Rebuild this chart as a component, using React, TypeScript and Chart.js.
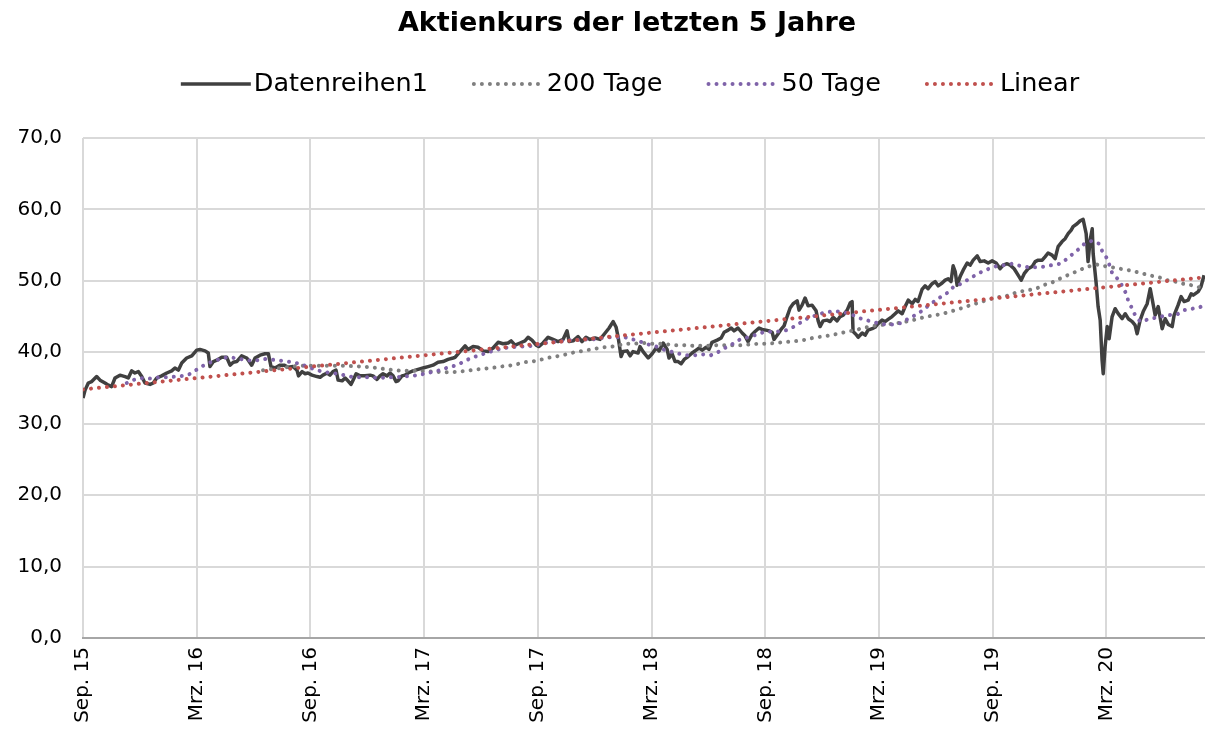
import React, { useEffect, useRef } from "react";
import { Chart, registerables } from "chart.js";

Chart.register(...registerables);

const chartTitle = "Aktienkurs der letzten 5 Jahre";
const seriesNames = ["Datenreihen1", "200 Tage", "50 Tage", "Linear"];
const seriesColors = ["#404040", "#7f7f7f", "#7f63a9", "#c0504d"];

// x axis: months since Sep. 2015
const xTickMonths = [0, 6, 12, 18, 24, 30, 36, 42, 48, 54];
const xTickLabels = ["Sep. 15", "Mrz. 16", "Sep. 16", "Mrz. 17", "Sep. 17", "Mrz. 18", "Sep. 18", "Mrz. 19", "Sep. 19", "Mrz. 20"];
const xMaxMonth = 59.2;
const yTicks = [0, 10, 20, 30, 40, 50, 60, 70];

// [month, price]
const priceSeries: [number, number][] = [
  [0.00,33.6],[0.11,34.7],[0.28,35.7],[0.46,35.9],[0.72,36.6],[0.90,36.1],[1.16,35.7],[1.34,35.4],[1.51,35.2],[1.69,36.4],
  [1.95,36.8],[2.22,36.6],[2.39,36.4],[2.57,37.4],[2.74,37.1],[2.92,37.3],[3.10,36.6],[3.27,35.7],[3.54,35.5],[3.71,35.7],
  [3.89,36.4],[4.15,36.7],[4.42,37.1],[4.68,37.4],[4.85,37.8],[5.03,37.5],[5.21,38.5],[5.47,39.2],[5.74,39.5],[6.00,40.3],
  [6.17,40.4],[6.44,40.2],[6.61,39.9],[6.70,38.0],[6.88,38.7],[7.06,38.9],[7.32,39.3],[7.58,39.3],[7.76,38.2],[7.93,38.6],
  [8.11,38.7],[8.37,39.5],[8.64,39.2],[8.90,38.2],[9.08,39.2],[9.34,39.6],[9.60,39.8],[9.78,39.8],[9.92,38.0],[10.13,37.8],
  [10.40,38.2],[10.61,38.2],[10.82,37.9],[11.08,38.0],[11.29,37.5],[11.37,36.7],[11.56,37.3],[11.72,37.0],[11.87,37.1],[12.08,36.8],
  [12.35,36.6],[12.51,36.5],[12.66,36.8],[12.88,37.1],[13.03,36.8],[13.19,37.3],[13.35,37.5],[13.46,36.1],[13.67,36.0],[13.83,36.4],
  [13.98,36.0],[14.14,35.5],[14.25,36.1],[14.41,37.0],[14.62,36.7],[14.88,36.7],[15.15,36.8],[15.30,36.7],[15.51,36.2],[15.67,36.7],
  [15.83,37.0],[16.04,36.7],[16.20,37.1],[16.36,36.7],[16.52,35.9],[16.62,36.0],[16.83,36.7],[16.99,36.8],[17.15,37.1],[17.41,37.4],
  [17.68,37.6],[17.94,37.8],[18.21,38.0],[18.47,38.2],[18.73,38.6],[19.00,38.7],[19.26,39.0],[19.53,39.2],[19.63,39.3],[19.89,40.1],
  [20.16,40.9],[20.32,40.4],[20.58,40.8],[20.84,40.7],[21.11,40.2],[21.37,40.1],[21.64,40.6],[21.90,41.4],[22.16,41.2],[22.43,41.3],
  [22.59,41.6],[22.80,41.0],[23.06,41.3],[23.32,41.6],[23.48,42.1],[23.69,41.7],[23.91,41.0],[24.06,40.8],[24.27,41.3],[24.54,42.1],
  [24.80,41.8],[25.07,41.5],[25.33,41.8],[25.54,43.0],[25.65,41.5],[25.86,41.6],[26.12,42.2],[26.33,41.5],[26.54,42.1],[26.75,41.8],
  [27.02,42.0],[27.28,41.8],[27.55,42.7],[27.76,43.4],[27.97,44.3],[28.13,43.5],[28.23,42.2],[28.39,39.4],[28.50,40.1],[28.71,40.2],
  [28.87,39.5],[29.02,40.1],[29.29,39.9],[29.39,40.8],[29.55,40.1],[29.82,39.2],[30.03,39.8],[30.24,40.6],[30.40,40.2],[30.61,41.3],
  [30.82,40.4],[30.92,39.2],[31.08,39.8],[31.24,38.7],[31.40,38.7],[31.56,38.4],[31.72,39.0],[31.93,39.4],[32.14,39.9],[32.35,40.3],
  [32.51,40.6],[32.67,40.3],[32.88,40.7],[33.03,40.4],[33.19,41.4],[33.46,41.7],[33.67,42.0],[33.83,42.8],[34.04,43.1],[34.20,43.4],
  [34.35,43.0],[34.56,43.4],[34.78,42.7],[34.93,42.3],[35.09,41.5],[35.30,42.5],[35.46,42.9],[35.67,43.4],[35.83,43.2],[36.04,43.1],
  [36.20,43.0],[36.36,42.8],[36.46,41.8],[36.68,42.6],[36.83,43.2],[36.99,43.7],[37.15,45.0],[37.31,46.2],[37.47,46.8],[37.68,47.2],
  [37.78,45.9],[37.94,46.6],[38.10,47.6],[38.26,46.5],[38.47,46.6],[38.68,45.8],[38.79,44.4],[38.89,43.6],[39.05,44.4],[39.26,44.5],
  [39.42,44.3],[39.58,44.9],[39.79,44.4],[39.95,45.0],[40.11,45.2],[40.32,45.9],[40.48,46.9],[40.58,47.1],[40.63,42.9],[40.79,42.5],
  [40.90,42.1],[41.11,42.7],[41.27,42.4],[41.42,43.1],[41.64,43.3],[41.79,43.5],[41.95,44.0],[42.16,44.5],[42.32,44.3],[42.48,44.6],
  [42.69,45.0],[42.85,45.4],[43.01,45.8],[43.22,45.4],[43.38,46.4],[43.54,47.3],[43.75,46.8],[43.91,47.4],[44.06,47.1],[44.27,48.8],
  [44.43,49.3],[44.59,48.9],[44.80,49.6],[44.96,49.9],[45.12,49.3],[45.33,49.7],[45.49,50.1],[45.65,50.3],[45.80,49.9],[45.91,52.1],
  [46.02,51.3],[46.12,49.4],[46.28,50.6],[46.44,51.5],[46.65,52.5],[46.81,52.2],[46.97,52.9],[47.18,53.5],[47.34,52.7],[47.55,52.8],
  [47.76,52.5],[47.97,52.8],[48.18,52.5],[48.39,51.7],[48.55,52.2],[48.76,52.4],[48.92,52.2],[49.13,51.7],[49.34,50.8],[49.50,50.1],
  [49.66,51.0],[49.87,51.7],[50.08,52.0],[50.24,52.7],[50.40,52.9],[50.61,52.9],[50.77,53.4],[50.92,53.9],[51.13,53.6],[51.29,53.1],
  [51.45,54.8],[51.66,55.5],[51.82,55.9],[51.98,56.6],[52.14,57.1],[52.24,57.6],[52.45,58.0],[52.61,58.4],[52.77,58.6],[52.93,56.6],
  [53.03,52.7],[53.14,55.7],[53.25,57.3],[53.30,53.8],[53.46,49.6],[53.56,46.4],[53.67,44.5],[53.77,38.9],[53.83,37.0],[53.93,40.8],
  [54.04,43.6],[54.14,41.9],[54.30,45.0],[54.46,46.1],[54.62,45.4],[54.83,44.7],[54.99,45.4],[55.15,44.7],[55.36,44.3],[55.51,43.8],
  [55.62,42.6],[55.78,44.5],[55.94,45.7],[56.15,46.8],[56.31,48.9],[56.41,47.5],[56.57,45.2],[56.73,46.4],[56.94,43.3],[57.10,44.7],
  [57.26,43.9],[57.47,43.6],[57.57,45.2],[57.78,46.6],[57.94,47.8],[58.10,47.1],[58.31,47.3],[58.47,48.2],[58.58,48.0],[58.84,48.5],
  [58.99,49.2],[59.15,50.8],
];

// 200-day moving average
const ma200Series: [number, number][] = [
  [9.50,37.5],[10.40,37.8],[11.29,38.1],[12.14,38.1],[12.98,38.1],[13.88,38.1],[14.72,38.0],[15.15,37.9],[15.57,37.8],[15.99,37.6],
  [16.41,37.5],[16.83,37.4],[17.31,37.4],[17.73,37.4],[18.21,37.3],[18.58,37.3],[19.00,37.2],[19.47,37.2],[19.84,37.3],[20.26,37.4],
  [20.74,37.6],[21.11,37.7],[21.58,37.8],[22.01,38.0],[22.43,38.1],[22.85,38.3],[23.27,38.6],[23.69,38.7],[24.06,38.9],[24.49,39.2],
  [24.91,39.4],[25.33,39.6],[25.75,39.9],[26.17,40.1],[26.60,40.3],[27.02,40.5],[27.44,40.7],[27.92,40.8],[28.28,41.0],[28.71,41.2],
  [29.13,41.2],[29.55,41.3],[29.97,41.2],[30.40,41.2],[30.87,41.1],[31.29,41.0],[31.72,41.0],[32.19,40.9],[32.61,40.9],[33.03,40.9],
  [33.46,41.0],[33.88,41.0],[34.30,41.0],[34.78,41.0],[35.20,41.1],[35.62,41.2],[36.09,41.2],[36.52,41.3],[36.94,41.4],[37.36,41.5],
  [37.78,41.6],[38.21,41.8],[38.63,42.1],[39.05,42.2],[39.47,42.4],[39.84,42.6],[40.32,42.9],[40.74,43.1],[41.16,43.4],[41.53,43.6],
  [41.95,43.8],[42.43,43.9],[42.80,44.0],[43.22,44.2],[43.64,44.4],[44.06,44.7],[44.54,45.0],[44.96,45.2],[45.38,45.4],[45.75,45.7],
  [46.17,46.0],[46.60,46.4],[46.97,46.7],[47.44,47.1],[47.81,47.4],[48.23,47.7],[48.65,47.8],[49.02,48.2],[49.45,48.5],[49.87,48.7],
  [50.29,48.9],[50.66,49.4],[51.08,49.7],[51.45,50.2],[51.87,50.7],[52.24,51.1],[52.66,51.6],[53.03,52.0],[53.46,52.3],[53.83,52.1],
  [54.30,51.9],[54.72,51.7],[55.15,51.5],[55.51,51.3],[55.94,51.0],[56.41,50.7],[56.78,50.5],[57.20,50.1],[57.62,49.9],[58.05,49.6],
  [58.47,49.4],[58.89,49.1],[59.20,48.8],
];

// 50-day moving average
const ma50Series: [number, number][] = [
  [2.31,35.7],[2.74,36.2],[3.17,36.4],[3.59,36.3],[4.01,36.5],[4.43,36.5],[4.91,36.6],[5.28,36.7],[5.70,37.0],[6.02,37.6],
  [6.39,38.2],[6.81,38.7],[7.18,39.0],[7.60,39.3],[8.02,39.2],[8.44,39.0],[8.92,38.8],[9.29,38.9],[9.71,39.1],[10.13,38.9],
  [10.55,38.8],[11.03,38.6],[11.45,38.4],[11.82,38.0],[12.24,37.6],[12.61,37.3],[13.09,37.1],[13.46,37.0],[13.93,36.7],[14.30,36.5],
  [14.72,36.5],[15.20,36.5],[15.62,36.4],[16.04,36.5],[16.46,36.5],[16.89,36.6],[17.31,36.7],[17.73,36.8],[18.15,37.1],[18.58,37.3],
  [18.94,37.6],[19.42,38.0],[19.74,38.2],[20.16,38.8],[20.58,39.3],[20.95,39.6],[21.37,40.0],[21.79,40.3],[22.16,40.6],[22.64,40.7],
  [23.01,40.8],[23.43,40.8],[23.91,41.0],[24.33,41.3],[24.75,41.4],[25.17,41.5],[25.59,41.7],[26.07,41.7],[26.49,41.8],[26.91,41.8],
  [27.34,42.0],[27.76,42.1],[28.18,42.1],[28.60,42.1],[29.02,41.8],[29.39,41.5],[29.82,41.1],[30.24,40.8],[30.61,40.4],[31.03,40.1],
  [31.45,39.8],[31.87,39.6],[32.30,39.6],[32.72,39.7],[33.14,39.6],[33.56,40.1],[33.93,40.7],[34.30,41.2],[34.67,41.8],[35.09,42.1],
  [35.46,42.4],[35.88,42.8],[36.31,42.9],[36.73,42.9],[37.15,43.1],[37.52,43.6],[37.89,44.2],[38.26,44.8],[38.73,45.2],[39.05,45.5],
  [39.47,45.7],[39.84,45.7],[40.32,45.5],[40.63,45.2],[41.06,44.7],[41.48,44.4],[41.90,44.1],[42.32,43.9],[42.74,43.9],[43.17,44.1],
  [43.48,44.6],[43.91,45.2],[44.27,45.8],[44.54,46.4],[44.91,47.1],[45.28,47.8],[45.59,48.3],[45.91,49.1],[46.33,49.6],[46.65,50.1],
  [47.02,50.7],[47.44,51.3],[47.81,51.7],[48.23,52.1],[48.65,52.2],[49.02,52.4],[49.45,52.1],[49.87,51.9],[50.34,51.9],[50.71,52.0],
  [51.13,52.2],[51.56,52.4],[51.93,53.1],[52.24,53.8],[52.56,54.5],[52.88,55.3],[53.25,55.6],[53.61,55.2],[53.77,54.2],[54.04,53.1],
  [54.30,51.1],[54.62,50.2],[54.83,49.3],[55.04,48.2],[55.15,47.2],[55.36,46.1],[55.51,45.2],[55.78,44.3],[56.20,44.6],[56.52,44.8],
  [56.89,45.0],[57.26,45.2],[57.73,45.3],[58.10,45.9],[58.52,46.1],[58.94,46.3],[59.20,46.8],
];

// linear trend end points
const linearSeries: [number, number][] = [
  [0, 34.8],
  [59.2, 50.5],
];

const FONT = '"DejaVu Sans", Verdana, sans-serif';
const DOT_DASH = [0.01, 8];

const headerPlugin = {
  id: "headerLegend",
  afterDraw(chart: any) {
    const ctx: CanvasRenderingContext2D = chart.ctx;
    ctx.save();
    // title
    ctx.fillStyle = "#000";
    ctx.font = `bold 27px ${FONT}`;
    ctx.textAlign = "center";
    ctx.textBaseline = "middle";
    ctx.fillText(chartTitle, 627, 24);

    // legend
    ctx.font = `25.5px ${FONT}`;
    const markerW = 72;
    const gap = 3;
    const itemGap = 44;
    const widths = seriesNames.map((n) => ctx.measureText(n).width);
    const total = widths.reduce((a, w) => a + markerW + gap + w, 0) + itemGap * (seriesNames.length - 1);
    let x = 629 - total / 2;
    const y = 84;
    seriesNames.forEach((name, i) => {
      ctx.beginPath();
      ctx.strokeStyle = seriesColors[i];
      if (i === 0) {
        ctx.setLineDash([]);
        ctx.lineWidth = 3.5;
        ctx.lineCap = "butt";
      } else {
        ctx.setLineDash(DOT_DASH);
        ctx.lineWidth = 4;
        ctx.lineCap = "round";
      }
      ctx.moveTo(x + 2, y);
      ctx.lineTo(x + markerW, y);
      ctx.stroke();
      ctx.setLineDash([]);
      ctx.fillStyle = "#000";
      ctx.textAlign = "left";
      ctx.fillText(name, x + markerW + gap, y);
      x += markerW + gap + widths[i] + itemGap;
    });
    ctx.restore();
  },
};

export default function App() {
  const canvasRef = useRef<HTMLCanvasElement | null>(null);

  useEffect(() => {
    document.body.style.margin = "0";
    const canvas = canvasRef.current;
    if (!canvas) return;
    const toPts = (s: [number, number][]) => s.map(([x, y]) => ({ x, y }));
    const dotted = (color: string, order: number, label: string, data: [number, number][]) => ({
      label,
      data: toPts(data),
      borderColor: color,
      backgroundColor: color,
      borderWidth: 4,
      borderDash: DOT_DASH,
      borderCapStyle: "round" as const,
      pointRadius: 0,
      fill: false,
      tension: 0,
      order,
    });
    const chart = new Chart(canvas, {
      type: "line",
      data: {
        datasets: [
          {
            label: seriesNames[0],
            data: toPts(priceSeries),
            borderColor: seriesColors[0],
            backgroundColor: seriesColors[0],
            borderWidth: 3.5,
            borderJoinStyle: "round",
            pointRadius: 0,
            fill: false,
            tension: 0,
            order: 4,
          },
          dotted(seriesColors[1], 3, seriesNames[1], ma200Series),
          dotted(seriesColors[2], 2, seriesNames[2], ma50Series),
          dotted(seriesColors[3], 1, seriesNames[3], linearSeries),
        ],
      },
      options: {
        responsive: false,
        devicePixelRatio: 1,
        animation: false,
        layout: { padding: { top: 138, left: 0, right: 0, bottom: 0 } },
        plugins: {
          legend: { display: false },
          title: { display: false },
          tooltip: { enabled: false },
        },
        scales: {
          x: {
            type: "linear",
            min: 0,
            max: xMaxMonth,
            afterBuildTicks: (s: any) => {
              s.ticks = xTickMonths.map((v) => ({ value: v }));
            },
            afterFit: (s: any) => {
              s.height = 99;
            },
            grid: { color: "#d9d9d9", lineWidth: 2, drawTicks: false },
            border: { display: true, color: "#a6a6a6", width: 2 },
            ticks: {
              autoSkip: false,
              maxRotation: 90,
              minRotation: 90,
              padding: 9,
              color: "#000",
              font: { family: FONT, size: 20 },
              callback: (v: any) => {
                const i = xTickMonths.indexOf(Number(v));
                return i >= 0 ? xTickLabels[i] : "";
              },
            },
          },
          y: {
            min: 0,
            max: 70,
            afterBuildTicks: (s: any) => {
              s.ticks = yTicks.map((v) => ({ value: v }));
            },
            afterFit: (s: any) => {
              s.width = 83;
            },
            grid: { color: "#d9d9d9", lineWidth: 2, drawTicks: false },
            border: { display: false },
            ticks: {
              padding: 21,
              color: "#000",
              font: { family: FONT, size: 20 },
              callback: (v: any) => Number(v).toFixed(1).replace(".", ","),
            },
          },
        },
      },
      plugins: [headerPlugin],
    });
    return () => chart.destroy();
  }, []);

  return (
    <div style={{ width: 1205, height: 737, position: "relative", background: "#fff" }}>
      <canvas ref={canvasRef} width={1205} height={737} style={{ display: "block" }} />
    </div>
  );
}
